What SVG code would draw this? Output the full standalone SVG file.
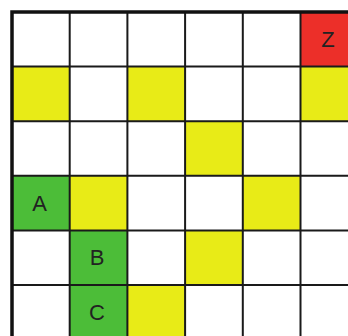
<svg xmlns="http://www.w3.org/2000/svg" width="348" height="336" viewBox="0 0 348 336">
<style>
.y{fill:#e8eb17}
.g{fill:#4cbd38}
.r{fill:#ec2f29}
.grid{stroke:#1a1a1a;stroke-width:2;fill:none}
.border{stroke:#111;stroke-width:3.5;fill:none}
.t{font-family:"Liberation Sans",Arial,sans-serif;font-size:22px;fill:#222;text-anchor:middle;dominant-baseline:central}
</style>
<rect width="348" height="336" fill="#fff"/>
<g id="cells">
<g id="z"><rect class="r" x="300.5" y="12" width="57.7" height="54.6"/><text class="t" x="328" y="39">Z</text></g>
<rect class="y" x="12" y="66.6" width="57.7" height="54.6"/>
<rect class="y" x="127.4" y="66.6" width="57.7" height="54.6"/>
<rect class="y" x="300.5" y="66.6" width="57.7" height="54.6"/>
<rect class="y" x="185.1" y="121.2" width="57.7" height="54.6"/>
<g id="a"><rect class="g" x="12" y="175.8" width="57.7" height="54.6"/><text class="t" x="39.5" y="203">A</text></g>
<rect class="y" x="69.7" y="175.8" width="57.7" height="54.6"/>
<rect class="y" x="242.8" y="175.8" width="57.7" height="54.6"/>
<g id="b"><rect class="g" x="69.7" y="230.4" width="57.7" height="54.6"/><text class="t" x="97" y="257">B</text></g>
<rect class="y" x="185.1" y="230.4" width="57.7" height="54.6"/>
<g id="c"><rect class="g" x="69.7" y="285" width="57.7" height="54.6"/><text class="t" x="97" y="312">C</text></g>
<rect class="y" x="127.4" y="285" width="57.7" height="54.6"/>
</g>
<g id="gridlines" class="grid">
<path d="M69.7 12V336M127.4 12V336M185.1 12V336M242.8 12V336M300.5 12V336"/>
<path d="M12 66.6H348M12 121.2H348M12 175.8H348M12 230.4H348M12 285H348"/>
</g>
<path class="border" d="M12 336V12H348"/>
</svg>
